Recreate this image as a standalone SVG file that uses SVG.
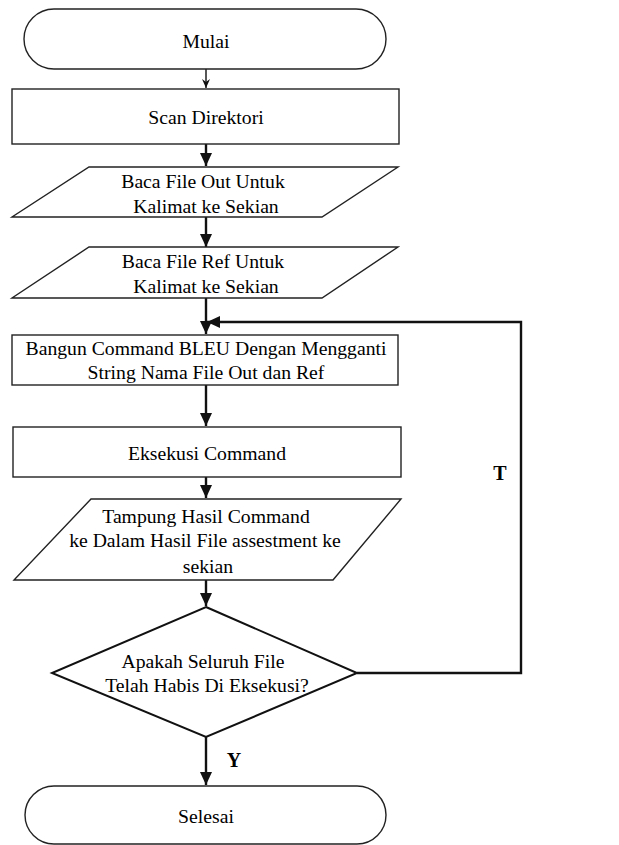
<svg xmlns="http://www.w3.org/2000/svg" width="619" height="845" viewBox="0 0 619 845">
<style>
.shape{fill:#fff;stroke:#222;stroke-width:1.4}
.txt{font-family:'Liberation Serif','Times New Roman',serif;font-size:19.7px;fill:#000;text-anchor:middle}
.lbl{font-family:'Liberation Serif','Times New Roman',serif;font-size:20px;font-weight:bold;fill:#000;text-anchor:middle}
.c{fill:none;stroke:#111;stroke-width:2.4}
.thin{fill:none;stroke:#111;stroke-width:1.4}
</style>
<defs>
<marker id="ah" markerUnits="userSpaceOnUse" markerWidth="14" markerHeight="14" viewBox="0 0 14 14" refX="13" refY="7" orient="auto">
<path d="M0,1 L13,7 L0,13 Z" fill="#111"/>
</marker>
<marker id="ahs" markerUnits="userSpaceOnUse" markerWidth="10" markerHeight="10" viewBox="0 0 10 10" refX="9" refY="5" orient="auto">
<path d="M0,1 L9,5 L0,9 L3,5 Z" fill="#111"/>
</marker>
</defs>
<rect width="619" height="845" fill="#fff"/>
<g id="connectors">
<line class="thin" x1="206" y1="69" x2="206" y2="88" marker-end="url(#ahs)"/>
<line class="c" x1="206" y1="144" x2="206" y2="166" marker-end="url(#ah)"/>
<line class="c" x1="206" y1="217" x2="206" y2="247" marker-end="url(#ah)"/>
<line class="c" x1="206" y1="298" x2="206" y2="334" marker-end="url(#ah)"/>
<line class="c" x1="206" y1="385" x2="206" y2="426" marker-end="url(#ah)"/>
<line class="c" x1="206" y1="477" x2="206" y2="498" marker-end="url(#ah)"/>
<line class="c" x1="206" y1="580" x2="206" y2="606" marker-end="url(#ah)"/>
<line class="c" x1="206" y1="737" x2="206" y2="785" marker-end="url(#ah)"/>
<polyline class="c" points="357,673 521,673 521,322 207,322" marker-end="url(#ah)"/>
<text class="lbl" x="500" y="480">T</text>
<text class="lbl" x="234" y="767">Y</text>
</g>
<g id="mulai">
<rect class="shape" x="24" y="9" width="362" height="60" rx="30" ry="30"/>
<text class="txt" x="206" y="48">Mulai</text>
</g>
<g id="scan">
<rect class="shape" x="12" y="89" width="387" height="55"/>
<text class="txt" x="206" y="124">Scan Direktori</text>
</g>
<g id="baca-out">
<polygon class="shape" points="89,167 398,167 322,217 12,217"/>
<text class="txt" x="203" y="188">Baca File Out Untuk</text>
<text class="txt" x="206" y="213">Kalimat ke Sekian</text>
</g>
<g id="baca-ref">
<polygon class="shape" points="89,247 398,247 322,298 12,298"/>
<text class="txt" x="203" y="268">Baca File Ref Untuk</text>
<text class="txt" x="206" y="293">Kalimat ke Sekian</text>
</g>
<g id="bangun">
<rect class="shape" x="12" y="335" width="386" height="50"/>
<text class="txt" x="206" y="355">Bangun Command BLEU Dengan Mengganti</text>
<text class="txt" x="206" y="379">String Nama File Out dan Ref</text>
</g>
<g id="eksekusi">
<rect class="shape" x="13" y="427" width="388" height="50"/>
<text class="txt" x="207" y="460">Eksekusi Command</text>
</g>
<g id="tampung">
<polygon class="shape" points="91,499 401,499 333,580 14,580"/>
<text class="txt" x="206" y="523">Tampung Hasil Command</text>
<text class="txt" x="205" y="547">ke Dalam Hasil File assestment ke</text>
<text class="txt" x="208" y="573">sekian</text>
</g>
<g id="decision">
<polygon class="shape" points="206,607 357,673 206,737 52,673" style="stroke:#111;stroke-width:2"/>
<text class="txt" x="203" y="668">Apakah Seluruh File</text>
<text class="txt" x="207" y="692">Telah Habis Di Eksekusi?</text>
</g>
<g id="selesai">
<rect class="shape" x="25" y="786" width="361" height="58" rx="29" ry="29"/>
<text class="txt" x="206" y="823">Selesai</text>
</g>
</svg>
